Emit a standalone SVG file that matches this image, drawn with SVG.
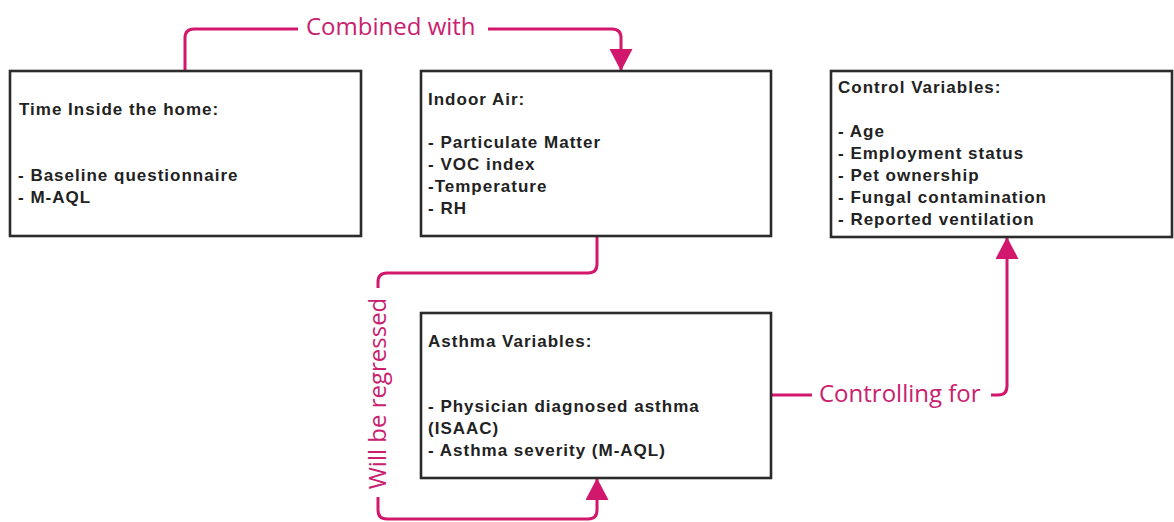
<svg xmlns="http://www.w3.org/2000/svg" width="1174" height="522" viewBox="0 0 1174 522">
<style>
.box{fill:#fff;stroke:#2b2b2b;stroke-width:2.6}
.t{font-family:"Liberation Sans",Arial,sans-serif;font-weight:bold;font-size:17px;letter-spacing:1px;fill:#222}
.c{fill:none;stroke:#d1186c;stroke-width:3;stroke-linecap:butt;stroke-linejoin:round}
.lbl{font-family:"Open Sans","Noto Sans",sans-serif;font-size:24px;fill:#c8216f}
</style>
<defs>
<marker id="ah" markerUnits="userSpaceOnUse" markerWidth="24" markerHeight="24" refX="22" refY="11.5" orient="auto" viewBox="0 0 24 24">
<path d="M0,0 L22,11.5 L0,23 z" fill="#d1186c"/>
</marker>
</defs>
<rect width="1174" height="522" fill="#fff"/>
<g id="connectors">
<path class="c" d="M185,71 V38 Q185,29 194,29 H298"/>
<path class="c" d="M488,29 H612 Q621,29 621,38 V71" marker-end="url(#ah)"/>
<text class="lbl" x="306" y="35">Combined with</text>
<path class="c" d="M597,236 V264 Q597,273 588,273 H387 Q378,273 378,282 V288"/>
<path class="c" d="M378,497 V510 Q378,519 387,519 H588 Q597,519 597,510 V478" marker-end="url(#ah)"/>
<text class="lbl" transform="translate(386,393.5) rotate(-90)" text-anchor="middle">Will be regressed</text>
<path class="c" d="M771,395 H812"/>
<path class="c" d="M991,395 H998 Q1007,395 1007,386 V237" marker-end="url(#ah)"/>
<text class="lbl" x="819" y="402">Controlling for</text>
</g>
<g id="time-inside">
<rect class="box" x="10" y="71" width="351" height="165"/>
<text class="t" x="19" y="115">Time Inside the home:</text>
<text class="t" x="18" y="181">- Baseline questionnaire</text>
<text class="t" x="18" y="203">- M-AQL</text>
</g>
<g id="indoor-air">
<rect class="box" x="421" y="71" width="350" height="165"/>
<text class="t" x="428" y="105">Indoor Air:</text>
<text class="t" x="428" y="148">- Particulate Matter</text>
<text class="t" x="428" y="170">- VOC index</text>
<text class="t" x="428" y="192">-Temperature</text>
<text class="t" x="428" y="214">- RH</text>
</g>
<g id="control-variables">
<rect class="box" x="831" y="71" width="341" height="166"/>
<text class="t" x="838" y="93">Control Variables:</text>
<text class="t" x="838" y="137">- Age</text>
<text class="t" x="838" y="159">- Employment status</text>
<text class="t" x="838" y="181">- Pet ownership</text>
<text class="t" x="838" y="203">- Fungal contamination</text>
<text class="t" x="838" y="225">- Reported ventilation</text>
</g>
<g id="asthma-variables">
<rect class="box" x="421" y="313" width="350" height="165"/>
<text class="t" x="428" y="347">Asthma Variables:</text>
<text class="t" x="428" y="412">- Physician diagnosed asthma</text>
<text class="t" x="428" y="434">(ISAAC)</text>
<text class="t" x="428" y="456">- Asthma severity (M-AQL)</text>
</g>
</svg>
